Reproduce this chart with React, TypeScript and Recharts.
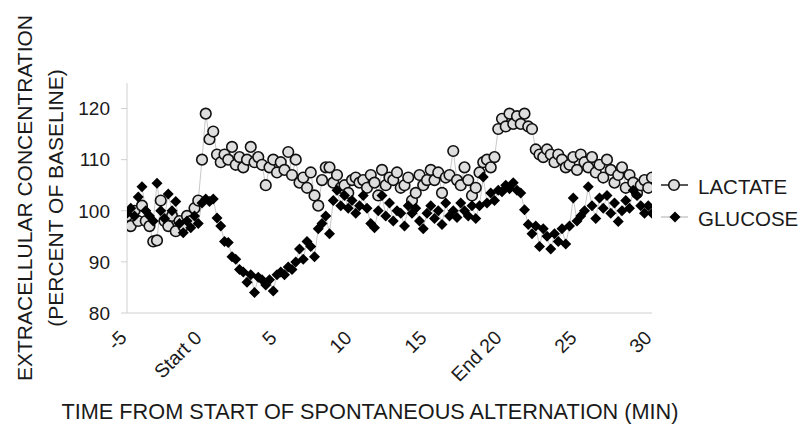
import React from "react";
import { LineChart, Line, XAxis, YAxis } from "recharts";

const START_MIN = -5;
const STEP_MIN = 0.25;

const LACTATE: number[] = [
  99, 97, 100, 98,
  101, 98, 97, 94,
  94.2, 102, 98, 97,
  99, 96, 98, 97,
  99, 98, 100.5, 102,
  110, 119, 114, 115.5,
  111, 109.5, 111, 110,
  112.5, 109, 110.5, 108.5,
  110, 112.5, 109.5, 110.5,
  109, 105, 108.5, 110,
  107.5, 109.5, 108, 111.5,
  107, 110, 105.5, 106.5,
  104.5, 107.5, 103, 101,
  106, 108.5, 108.5, 105.5,
  107, 104.5, 105, 103.5,
  106, 106.5, 105.5, 106,
  104.5, 107, 105.5, 103,
  108, 105, 106.5, 106,
  107.5, 104.5, 105, 106.5,
  102, 103.5, 107, 105,
  106, 108, 106, 107.5,
  103.5, 106.5, 107, 111.7,
  106, 105, 108.5, 106,
  103, 104.5, 107.5, 109.5,
  110, 108.5, 110.5, 116,
  118, 116.5, 119, 117,
  118.5, 117, 119, 116.5,
  116, 112, 111, 110.5,
  112, 111, 109.5, 111,
  110, 108.5, 109, 110.5,
  108, 111, 109.5, 108.5,
  110.5, 107.5, 109, 106.5,
  110, 108, 105.5, 107,
  108.5, 104.5, 107, 105.5,
  103.5, 105, 106, 104.5,
  106.5,
];

const GLUCOSE: number[] = [
  99.5, 100.5, 99, 102.7,
  104.7, 100, 99, 98,
  105.4, 100, 98.5, 103.3,
  100, 101.8, 97.5, 95.7,
  98, 96.7, 99, 97.5,
  101.5, 102.3, 101.8, 102.3,
  98.6, 97, 94, 93.8,
  91, 90.5, 88.5, 88,
  86, 87.5, 84, 87,
  86.5, 85.5, 86.5, 84.3,
  87.5, 88, 87.5, 89,
  88.5, 90, 92.5, 90.5,
  94, 93, 91, 96.5,
  97.5, 99, 95.5, 102,
  104, 101, 103, 100.5,
  102, 99.5, 101, 103,
  100.5, 97.5, 96.7, 100,
  103, 99, 101.5, 98,
  100, 99.5, 97, 101,
  99.5, 100.5, 98, 96.5,
  99.5, 101, 98.5, 100,
  97.3, 101.5, 99, 100,
  98.7, 101.5, 100, 99,
  101, 98.5, 101, 106.6,
  101.5, 103.5, 102, 104,
  103.7, 105, 104.3, 105.5,
  104, 103.5, 100.2, 97.3,
  95.5, 97, 93, 96.5,
  95, 92.5, 95.5, 94,
  96.5, 93.5, 97, 102.5,
  98, 99, 100, 104.7,
  101, 98.5, 102.5, 100.5,
  103, 99.5, 101.5, 97.9,
  100, 102, 100.5, 104,
  103, 101, 99.5, 101,
  99.5,
];

const X_TICKS = [-5, 0, 5, 10, 15, 20, 25, 30];
const X_TICK_LABELS = ["-5", "Start 0", "5", "10", "15", "End 20", "25", "30"];
const Y_TICKS = [80, 90, 100, 110, 120];
const SERIES_NAMES = ["LACTATE", "GLUCOSE"];
const Y_TITLE_LINES = ["EXTRACELLULAR CONCENTRATION", "(PERCENT OF BASELINE)"];
const X_TITLE = "TIME FROM START OF SPONTANEOUS ALTERNATION (MIN)";

const data = LACTATE.map((v, i) => ({
  t: START_MIN + i * STEP_MIN,
  lactate: v,
  glucose: GLUCOSE[i],
}));

const FONT = "'Liberation Sans', Arial, sans-serif";
const TEXT_COLOR = "#1a1a1a";

const XTick = (props: any) => {
  const { x, y, payload } = props;
  const idx = X_TICKS.indexOf(payload.value);
  const label = idx >= 0 ? X_TICK_LABELS[idx] : String(payload.value);
  return (
    <text
      transform={`translate(${x - 4},${y + 21}) rotate(-45)`}
      textAnchor="end"
      dominantBaseline="central"
      fontSize={19.5}
      fontFamily={FONT}
      fill={TEXT_COLOR}
    >
      {label}
    </text>
  );
};

const diamondPath = (cx: number, cy: number, s: number) =>
  `M${cx},${cy - s}L${cx + s},${cy}L${cx},${cy + s}L${cx - s},${cy}Z`;

const DiamondDot = (props: any) => {
  const { cx, cy, index } = props;
  if (cx == null || cy == null) return <g key={index} />;
  return <path key={index} d={diamondPath(cx, cy, 5.5)} fill="#000" />;
};

export default function App() {
  return (
    <div style={{ position: "absolute", left: 0, top: 0, width: 803, height: 433, background: "#fff" }}>
      <LineChart width={803} height={433} data={data} margin={{ top: 83, right: 151, bottom: 60, left: 67 }}>
        <XAxis
          dataKey="t"
          type="number"
          domain={[-5, 30]}
          ticks={X_TICKS}
          interval={0}
          tick={<XTick />}
          tickLine={false}
          tickSize={0}
          tickMargin={0}
          axisLine={{ stroke: "#d0d0d0" }}
          height={60}
          allowDataOverflow
        />
        <YAxis
          domain={[80, 125]}
          ticks={Y_TICKS}
          allowDataOverflow
          width={60}
          tickSize={6}
          tickMargin={11}
          tickLine={{ stroke: "#d0d0d0" }}
          axisLine={{ stroke: "#d0d0d0" }}
          tick={{ fontSize: 19, fill: TEXT_COLOR, fontFamily: FONT }}
        />
        <Line
          dataKey="lactate"
          name={SERIES_NAMES[0]}
          stroke="#c8c8c8"
          strokeWidth={1}
          isAnimationActive={false}
          dot={{ r: 5.3, fill: "#dedede", stroke: "#111", strokeWidth: 1.6 }}
          activeDot={false}
        />
        <Line
          dataKey="glucose"
          name={SERIES_NAMES[1]}
          stroke="#c8c8c8"
          strokeWidth={1}
          isAnimationActive={false}
          dot={<DiamondDot />}
          activeDot={false}
        />
        <g fontFamily={FONT} fill={TEXT_COLOR}>
          <text transform="translate(24,198) rotate(-90)" textAnchor="middle" dominantBaseline="central" fontSize={21}>
            {Y_TITLE_LINES[0]}
          </text>
          <text transform="translate(55,198) rotate(-90)" textAnchor="middle" dominantBaseline="central" fontSize={21}>
            {Y_TITLE_LINES[1]}
          </text>
          <text x={370} y={411} textAnchor="middle" dominantBaseline="central" fontSize={21.7}>
            {X_TITLE}
          </text>
          <line x1={661} y1={185} x2={688} y2={185} stroke="#222" strokeWidth={1.5} />
          <circle cx={674} cy={185} r={5.3} fill="#dedede" stroke="#111" strokeWidth={1.6} />
          <text x={698} y={186} dominantBaseline="central" fontSize={20.5}>
            {SERIES_NAMES[0]}
          </text>
          <line x1={661} y1={217} x2={688} y2={217} stroke="#c8c8c8" strokeWidth={1.5} />
          <path d={diamondPath(675, 217, 5.5)} fill="#000" />
          <text x={698} y={218} dominantBaseline="central" fontSize={20.5}>
            {SERIES_NAMES[1]}
          </text>
        </g>
      </LineChart>
    </div>
  );
}
